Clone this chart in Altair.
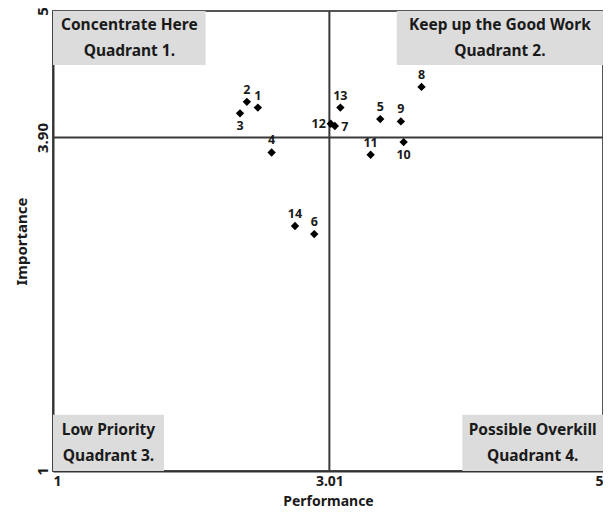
import altair as alt
import pandas as pd

# ---- data ----
ids = [str(i) for i in range(1, 15)]
performance = [2.49, 2.41, 2.36, 2.59, 3.38, 2.90, 3.05, 3.68, 3.53, 3.55, 3.31, 3.02, 3.09, 2.76]
importance = [4.16, 4.21, 4.11, 3.77, 4.06, 3.06, 4.00, 4.34, 4.04, 3.86, 3.75, 4.02, 4.16, 3.13]
label_pos = ["above", "above", "below", "above", "above", "above", "right",
             "above", "above", "below", "above", "left", "above", "above"]

x_mean = 3.01
y_mean = 3.90
x_ticks = [1, 3.01, 5]
y_ticks = [1, 3.90, 5]

quad_line1 = ["Concentrate Here", "Keep up the Good Work", "Low Priority", "Possible Overkill"]
quad_line2 = ["Quadrant 1.", "Quadrant 2.", "Quadrant 3.", "Quadrant 4."]
box_x1 = [1.0, 3.50, 1.0, 3.977]
box_x2 = [2.11, 5.0, 1.807, 5.0]
box_y1 = [4.53, 4.53, 1.0, 1.0]
box_y2 = [5.0, 5.0, 1.49, 1.49]

pts = pd.DataFrame({"id": ids, "Performance": performance, "Importance": importance, "pos": label_pos})
boxes = pd.DataFrame({"x1": box_x1, "x2": box_x2, "y1": box_y1, "y2": box_y2,
                      "l1": quad_line1, "l2": quad_line2})
boxes["xc"] = (boxes.x1 + boxes.x2) / 2
boxes["yc"] = (boxes.y1 + boxes.y2) / 2

FONT = "Noto Sans"
TXT = "#1a1a1a"
xs = alt.Scale(domain=[1, 5], nice=False, zero=False)
ys = alt.Scale(domain=[1, 5], nice=False, zero=False)

base = alt.Chart(pts)

rects = alt.Chart(boxes).mark_rect(color="#dcdcdc").encode(
    x=alt.X("x1:Q", scale=xs), x2="x2:Q",
    y=alt.Y("y1:Q", scale=ys), y2="y2:Q")

qtext1 = alt.Chart(boxes).mark_text(font=FONT, fontSize=15.5, fontWeight="bold", color=TXT,
                                    align="center", baseline="middle", dy=-13).encode(
    x=alt.X("xc:Q", scale=xs), y=alt.Y("yc:Q", scale=ys), text="l1")
qtext2 = alt.Chart(boxes).mark_text(font=FONT, fontSize=15.5, fontWeight="bold", color=TXT,
                                    align="center", baseline="middle", dy=13).encode(
    x=alt.X("xc:Q", scale=xs), y=alt.Y("yc:Q", scale=ys), text="l2")

vline = alt.Chart(pd.DataFrame({"v": [x_mean]})).mark_rule(color="#3a3a3a", strokeWidth=2).encode(
    x=alt.X("v:Q", scale=xs))
hline = alt.Chart(pd.DataFrame({"v": [y_mean]})).mark_rule(color="#3a3a3a", strokeWidth=2).encode(
    y=alt.Y("v:Q", scale=ys))

points = base.mark_point(shape="diamond", filled=True, color="black", size=70, opacity=1).encode(
    x=alt.X("Performance:Q", scale=xs,
            axis=alt.Axis(values=x_ticks, title="Performance", grid=False, ticks=False, tickSize=0,
                          labelPadding=3, titlePadding=6, labelFontSize=14, titleFontSize=14,
                          labelExpr="datum.value == 3.01 ? '3.01' : format(datum.value, 'd')")),
    y=alt.Y("Importance:Q", scale=ys,
            axis=alt.Axis(values=y_ticks, title="Importance", grid=False, ticks=False, tickSize=0,
                          labelAngle=270, labelAlign="center", labelBaseline="bottom",
                          labelPadding=3, titlePadding=6,
                          labelExpr="datum.value == 3.9 ? '3.90' : format(datum.value, 'd')")))

offsets = {"above": (0, -12), "below": (0, 13), "right": (10, 1), "left": (-12, 0)}
label_layers = []
for p, (dx, dy) in offsets.items():
    label_layers.append(
        base.transform_filter(alt.datum.pos == p).mark_text(
            font=FONT, fontSize=12.5, fontWeight="bold", color=TXT, dx=dx, dy=dy,
            align="center", baseline="middle").encode(
            x=alt.X("Performance:Q", scale=xs), y=alt.Y("Importance:Q", scale=ys), text="id"))

chart = alt.layer(rects, qtext1, qtext2, vline, hline, points, *label_layers).properties(
    width=550, height=460,
    autosize=alt.AutoSizeParams(type="none"),
    padding={"left": 45, "top": 3, "right": 0, "bottom": 40}
).configure_view(stroke="#555", strokeWidth=2).configure_axis(
    domainColor="#333", domainWidth=2,
    labelFont=FONT, labelFontSize=15, labelFontWeight="bold", labelColor=TXT,
    titleFont=FONT, titleFontSize=15, titleFontWeight="bold", titleColor=TXT)

chart.save("out.html", embed_options={"renderer": "svg", "actions": False})
